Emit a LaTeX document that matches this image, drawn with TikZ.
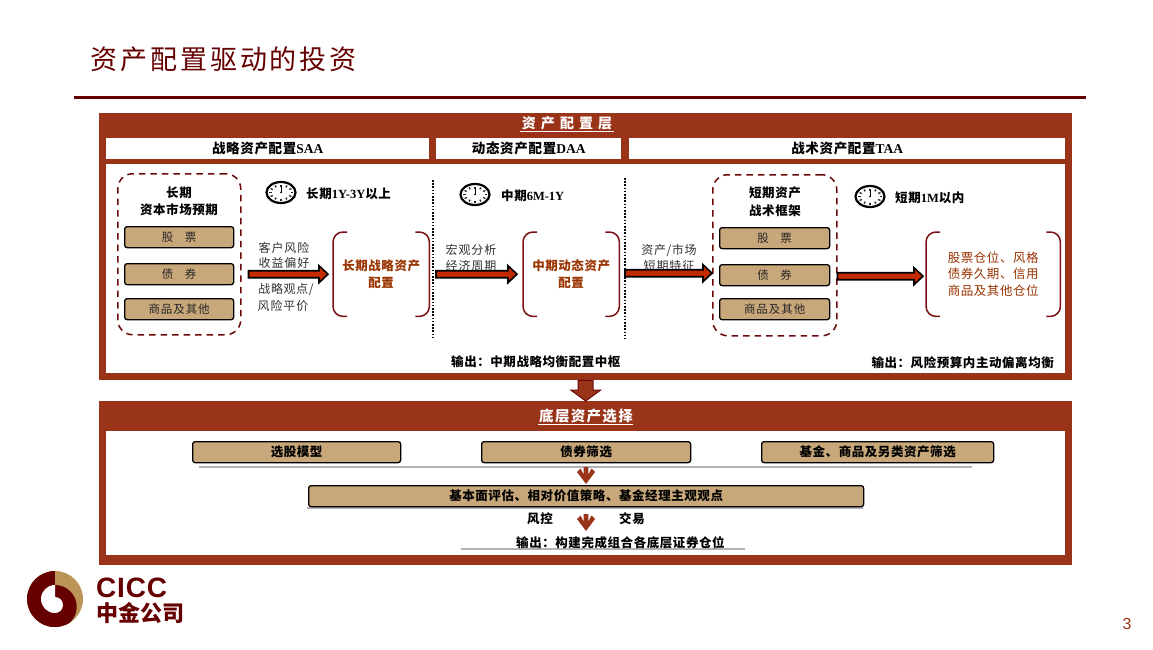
\documentclass[tikz,border=0pt]{standalone}
\usepackage{fontspec}
\setmainfont{Noto Sans CJK SC}
\newfontfamily\latf{Liberation Serif}
\newfontfamily\logof{Liberation Sans}
\newcommand{\ltn}[1]{{\latf\bfseries #1}}
\usetikzlibrary{shapes.geometric,arrows.meta,calc}
\definecolor{band}{HTML}{993419}
\definecolor{tan}{HTML}{C8A87A}
\definecolor{dred}{HTML}{6B0A0A}
\definecolor{brred}{HTML}{7B1113}
\definecolor{txred}{HTML}{993300}
\definecolor{arred}{HTML}{C32A00}
\definecolor{logod}{HTML}{660000}
\definecolor{logot}{HTML}{BC9457}
\newcommand{\fs}[1]{\fontsize{#1}{#1}\selectfont}
\newcommand{\lsp}[1]{\addfontfeature{LetterSpace=#1}}
\tikzset{
 panel/.style={fill=band,draw=none,anchor=north west,inner sep=0pt},
 cellbox/.style={fill=white,draw=none,inner sep=0pt,font=\fs{13.5}\bfseries\lsp{5}},
 tanbox/.style={fill=tan,draw=black,line width=1.3pt,rounded corners=2.5pt,inner sep=0pt,font=\fs{11.5},text=black!85},
 tanbold/.style={tanbox,font=\fs{12.5}\bfseries\lsp{4.5},text=black},
 dashbox/.style={draw=dred,line width=1.5pt,dash pattern=on 6.5pt off 5pt,rounded corners=15pt,inner sep=0pt},
 brnode/.style={inner sep=0pt,align=center,text=txred,font=\fs{12.5}\bfseries\lsp{4.5}},
 brline/.style={draw=brred,line width=1.5pt,rounded corners=10pt},
 lab/.style={inner sep=0pt,align=center,font=\fs{12.5}\bfseries\lsp{4.5}},
 graylab/.style={inner sep=0pt,align=center,font=\fs{12},text=black!80},
 head/.style={inner sep=0pt,text=white,font=\fs{14}\bfseries},
 blockarrow/.style={draw=black,line width=1.6pt,fill=arred,to path={
   ([yshift=-3.5pt]\tikztostart) -- ([yshift=-3.5pt,xshift=-9pt]\tikztotarget) -- ([yshift=-8.5pt,xshift=-9pt]\tikztotarget) -- (\tikztotarget)
   -- ([yshift=8.5pt,xshift=-9pt]\tikztotarget) -- ([yshift=3.5pt,xshift=-9pt]\tikztotarget) -- ([yshift=3.5pt]\tikztostart) -- cycle}},
 chev/.style={draw=none,fill=band,to path={
   ([xshift=-2.4pt,yshift=17pt]\tikztotarget) -- ([xshift=-2.4pt,yshift=9.5pt]\tikztotarget) -- ([xshift=-5.5pt,yshift=15.5pt]\tikztotarget)
   -- ([xshift=-9pt,yshift=12pt]\tikztotarget) -- (\tikztotarget) -- ([xshift=9pt,yshift=12pt]\tikztotarget)
   -- ([xshift=5.5pt,yshift=15.5pt]\tikztotarget) -- ([xshift=2.4pt,yshift=9.5pt]\tikztotarget) -- ([xshift=2.4pt,yshift=17pt]\tikztotarget) -- cycle}},
 bigarrow/.style={draw=dred,line width=1pt,fill=band,to path={
   ([xshift=-7.5pt]\tikztostart) -- ([xshift=7.5pt]\tikztostart) -- ([xshift=7.5pt,yshift=11pt]\tikztotarget) -- ([xshift=15pt,yshift=11pt]\tikztotarget)
   -- (\tikztotarget) -- ([xshift=-15pt,yshift=11pt]\tikztotarget) -- ([xshift=-7.5pt,yshift=11pt]\tikztotarget) -- cycle}},
 grayline/.style={draw=black!30,line width=1.4pt},
 clockface/.style={ellipse,draw=black,line width=2.2pt,fill=white,minimum width=29pt,minimum height=21pt,inner sep=0pt},
 divider/.style={draw=black,line width=1.6pt,dash pattern=on 1.6pt off 1.6pt},
}
\newcommand{\brackets}[1]{%
 \draw[brline] ([xshift=14pt]#1.north west) -- (#1.north west) -- (#1.south west) -- ([xshift=14pt]#1.south west);
 \draw[brline] ([xshift=-14pt]#1.north east) -- (#1.north east) -- (#1.south east) -- ([xshift=-14pt]#1.south east);}
\newcommand{\clockticks}[1]{%
 \foreach \a in {0,30,...,330}{\draw[black!85,line width=1.3pt] ($(#1.center)+(\a:12pt and 8pt)$) -- ($(#1.center)+(\a:9.5pt and 6pt)$);}
 \draw[black,line width=0.8pt] (#1.center) -- ++(0,6.5pt);
 \fill[black] (#1.center) circle (0.9pt);}
\begin{document}
\begin{tikzpicture}[x=1pt,y=-1pt]
\useasboundingbox (0,0) rectangle (1153,650);
\fill[white] (0,0) rectangle (1153,650);
% title
\node[inner sep=0pt,anchor=west,text=logod] (title) at (90,59) {\fs{27}\lsp{11}资产配置驱动的投资};
\coordinate (ruleL) at (74,98); \coordinate (ruleR) at (1086,98);
\draw[draw=logod,line width=3pt] (ruleL) -- (ruleR);
% panel 1
\node[panel,minimum width=973pt,minimum height=267pt] (p1) at (99,113) {};
\node[cellbox,minimum width=323pt,minimum height=21pt,anchor=north west] (saa) at (106,138) {战略资产配置\ltn{SAA}};
\node[cellbox,minimum width=185pt,minimum height=21pt,anchor=north west] (daa) at (436,138) {动态资产配置\ltn{DAA}};
\node[cellbox,minimum width=436pt,minimum height=21pt,anchor=north west] (taa) at (629,138) {战术资产配置\ltn{TAA}};
\node[fill=white,inner sep=0pt,minimum width=959pt,minimum height=209pt,anchor=north west] (b1) at (106,164) {};
\node[head] (h1) at (567,123) {\lsp{36}资产配置层};
\draw[white,line width=0.8pt] (520,131.5) -- (614,131.5);
% left dashed
\node[dashbox,minimum width=123pt,minimum height=161pt,anchor=north west] (db1) at (117,173) {};
\node[lab] (l1) at (179,193) {长期};
\node[lab] (l2) at (179,210) {资本市场预期};
\node[tanbox,minimum width=109pt,minimum height=21pt,anchor=north west] (a1) at (124,226) {股\quad 票};
\node[tanbox,minimum width=109pt,minimum height=21pt,anchor=north west] (a2) at (124,263) {债\quad 券};
\node[tanbox,minimum width=109pt,minimum height=21pt,anchor=north west] (a3) at (124,298) {\lsp{8}商品及其他};
% clocks
\node[clockface] (c1) at (281,192.5) {}; \clockticks{c1}
\node[lab,anchor=west] (c1t) at (306,194) {长期\ltn{1Y-3Y}以上};
\node[clockface] (c2) at (475,194.5) {}; \clockticks{c2}
\node[lab,anchor=west] (c2t) at (501,196) {中期\ltn{6M-1Y}};
\node[clockface] (c3) at (870,196.5) {}; \clockticks{c3}
\node[lab,anchor=west] (c3t) at (895,198) {短期\ltn{1M}以内};
% dividers
\coordinate (d1a) at (433,180); \coordinate (d1b) at (433,338);
\coordinate (d2a) at (625,178); \coordinate (d2b) at (625,339);
\draw[divider] (d1a) -- (d1b);
\draw[divider] (d2a) -- (d2b);
% labels around arrows
\node[graylab] (t1) at (284,248) {\lsp{8}客户风险};
\node[graylab] (t2) at (284,263) {\lsp{8}收益偏好};
\node[graylab] (t3) at (286,290) {\lsp{5}战略观点/};
\node[graylab] (t4) at (283,306) {\lsp{8}风险平价};
\node[graylab] (t5) at (471,250) {\lsp{8}宏观分析};
\node[graylab] (t6) at (471,266) {\lsp{8}经济周期};
\node[graylab] (t7) at (669,250) {\lsp{5}资产/市场};
\node[graylab] (t8) at (669,266) {\lsp{8}短期特征};
% brackets
\node[brnode,minimum width=96pt,minimum height=84pt,anchor=north west] (br1) at (333,232) {长期战略资产\\[4pt]配置};
\node[brnode,minimum width=96pt,minimum height=84pt,anchor=north west] (br2) at (523,232) {中期动态资产\\[4pt]配置};
\node[brnode,minimum width=134pt,minimum height=84pt,anchor=north west,font=\fs{12.5}\lsp{4.5}] (br3) at (926,232) {股票仓位、风格\\[4pt]债券久期、信用\\[4pt]商品及其他仓位};
\brackets{br1}\brackets{br2}\brackets{br3}
% right dashed
\node[dashbox,minimum width=124pt,minimum height=161pt,anchor=north west] (db2) at (712,174) {};
\node[lab] (r1) at (775,193) {短期资产};
\node[lab] (r2) at (775,211) {战术框架};
\node[tanbox,minimum width=110pt,minimum height=21pt,anchor=north west] (e1) at (719,227) {股\quad 票};
\node[tanbox,minimum width=110pt,minimum height=21pt,anchor=north west] (e2) at (719,264) {债\quad 券};
\node[tanbox,minimum width=110pt,minimum height=21pt,anchor=north west] (e3) at (719,298) {\lsp{8}商品及其他};
% block arrows
\draw[blockarrow] ([xshift=7pt]db1.east |- br1.west) to ([xshift=-5pt]br1.west);
\draw[blockarrow] ([xshift=3pt]d1a |- br2.west) to ([xshift=-6pt]br2.west);
\draw[blockarrow] ([yshift=1pt]d2a |- br2.west) to ([yshift=1pt]db2.west |- br2.west);
\draw[blockarrow] ([yshift=-2pt]db2.east |- br3.west) to ([yshift=-2pt,xshift=-3pt]br3.west);
% outputs
\node[lab,anchor=west] (o1) at (451,362) {输出：中期战略均衡配置中枢};
\node[lab,anchor=east] (o2) at (1054,363) {输出：风险预算内主动偏离均衡};
% panel 2
\node[panel,minimum width=973pt,minimum height=164pt] (p2) at (99,401) {};
\node[fill=white,inner sep=0pt,minimum width=959pt,minimum height=124pt,anchor=north west] (b2) at (106,431) {};
\node[head] (h2) at (586,416) {\fs{14.5}\lsp{9}底层资产选择};
\draw[white,line width=0.8pt] (538,424.5) -- (633,424.5);
% connecting arrow
\draw[bigarrow] (p1.south) to (p2.north);
% bottom boxes
\coordinate (g1a) at (199,467); \coordinate (g1b) at (972,467);
\coordinate (g2a) at (307,508); \coordinate (g2b) at (863,508);
\coordinate (g3a) at (461,549); \coordinate (g3b) at (745,549);
\draw[grayline] (g1a) -- (g1b);
\draw[grayline] (g2a) -- (g2b);
\draw[grayline] (g3a) -- (g3b);
\node[tanbold,minimum width=208pt,minimum height=21pt,anchor=north west] (s1) at (192,441) {选股模型};
\node[tanbold,minimum width=209pt,minimum height=21pt,anchor=north west] (s2) at (481,441) {债券筛选};
\node[tanbold,minimum width=232pt,minimum height=21pt,anchor=north west] (s3) at (761,441) {基金、商品及另类资产筛选};
\node[tanbold,minimum width=555pt,minimum height=21pt,anchor=north west] (s4) at (308,485) {基本面评估、相对价值策略、基金经理主观观点};
\coordinate (ch1a) at (586,468); \coordinate (ch2a) at (586,514);
\coordinate (ch2b) at (586,531);
\fill[chev] (ch1a) to ([yshift=1pt]ch1a |- s4.north);
\fill[chev] (ch2a) to (ch2b);
\node[lab] (fk) at (540,519) {风控};
\node[lab] (jy) at (632,519) {交易};
\node[lab,anchor=west] (o3) at (516,543) {输出：构建完成组合各底层证券仓位};
% logo
\fill[logot] (55,599) circle (28pt);
\begin{scope}
 \clip (55,599) circle (28pt);
 \fill[logod] (55,560) rectangle (20,640);
 \fill[logod] (55,606.7) circle (21.7pt);
\end{scope}
\fill[white] (55,585) arc (90:270:14pt) -- (55,613) arc (-90:90:8pt) -- cycle;
\node[inner sep=0pt,anchor=west,text=logod] (cicc) at (96,588) {\logof\fs{28}\bfseries\lsp{3}CICC};
\node[inner sep=0pt,anchor=west,text=logod] (zj) at (96,613) {\fs{22}\bfseries 中金公司};
% page
\node[inner sep=0pt,text=band] (pg) at (1127,624) {\logof\fs{16}3};
\end{tikzpicture}
\end{document}
